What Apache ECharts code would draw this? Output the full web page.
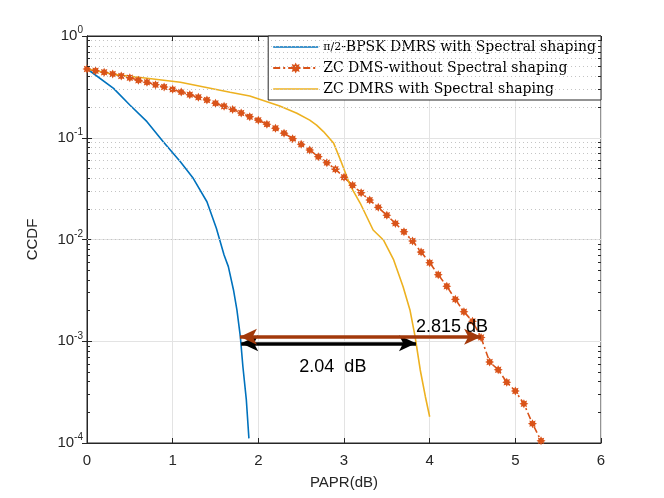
<!DOCTYPE html>
<html>
<head>
<meta charset="utf-8">
<script src="https://cdn.jsdelivr.net/npm/echarts@6/dist/echarts.min.js"></script>
<style>
  html, body { margin: 0; padding: 0; background: #fff; }
  #main { width: 664px; height: 498px; }
</style>
</head>
<body>
<div id="main"></div>
<script>
// pi/2-BPSK DMRS with spectral shaping
var paprBpsk = [0, 0.035, 0.31, 0.50, 0.70, 0.89, 1.09, 1.24, 1.40, 1.51, 1.60, 1.65, 1.71, 1.75, 1.79, 1.82, 1.86, 1.89];
var ccdfBpsk = [0.474, 0.453, 0.306, 0.210, 0.144, 0.0915, 0.0582, 0.0399, 0.0235, 0.0129, 0.00704, 0.00541, 0.00319, 0.00203, 0.00111, 0.000562, 0.000265, 0.000111];

// ZC without spectral shaping (marker every 0.1 dB)
var paprZc = [0, 0.1, 0.2, 0.3, 0.4, 0.5, 0.6, 0.7, 0.8, 0.9, 1.0, 1.1, 1.2, 1.3, 1.4, 1.5, 1.6, 1.7, 1.8, 1.9,
              2.0, 2.1, 2.2, 2.3, 2.4, 2.5, 2.6, 2.7, 2.8, 2.9, 3.0, 3.1, 3.2, 3.3, 3.4, 3.5, 3.6, 3.7, 3.8, 3.9,
              4.0, 4.1, 4.2, 4.3, 4.4, 4.5, 4.6, 4.7, 4.8, 4.9, 5.0, 5.1, 5.2, 5.3];
var ccdfZc = [0.474, 0.456, 0.440, 0.423, 0.404, 0.389, 0.367, 0.351, 0.332, 0.315, 0.299, 0.282, 0.265, 0.250, 0.235, 0.218, 0.204, 0.190, 0.175, 0.161,
              0.149, 0.136, 0.124, 0.111, 0.098, 0.0862, 0.0758, 0.0652, 0.0569, 0.0490, 0.0409, 0.0341, 0.0288, 0.0244, 0.0207, 0.0173, 0.0144, 0.0119, 0.00967, 0.00752,
              0.00591, 0.00451, 0.00347, 0.00258, 0.00195, 0.00157, 0.00109, 0.000625, 0.000525, 0.000395, 0.000324, 0.000243, 0.000155, 0.000105];

// ZC DMRS with spectral shaping
var paprZcSs = [0, 0.31, 0.70, 1.09, 1.67, 1.90, 2.25, 2.45, 2.60, 2.68, 2.76, 2.88, 2.96, 3.07, 3.19, 3.34, 3.46, 3.58, 3.69, 3.77, 3.83, 3.89, 3.95, 4.0];
var ccdfZcSs = [0.474, 0.420, 0.384, 0.351, 0.280, 0.257, 0.205, 0.174, 0.149, 0.133, 0.115, 0.0881, 0.060, 0.0343, 0.0227, 0.0124, 0.00989, 0.00629, 0.00344, 0.00203, 0.00111, 0.000522, 0.000285, 0.000181];

var seriesNames = ['\u03c0/2-BPSK DMRS with Spectral shaping', 'ZC DMS-without Spectral shaping', 'ZC DMRS with Spectral shaping'];

// annotation arrows: [x from, x to, ccdf level]
var arrowBlack = [1.80, 3.84, 0.000955];
var arrowBrown = [1.785, 4.60, 0.00111];

var minorMult = [2, 3, 4, 5, 6, 7, 8, 9];
var decades = [0.0001, 0.001, 0.01, 0.1];

function zip(xs, ys) {
    var out = [];
    for (var i = 0; i < xs.length; i++) out.push([xs[i], ys[i]]);
    return out;
}

var sansFont = '"Liberation Sans", Arial, Helvetica, sans-serif';
var serifFont = '"DejaVu Serif", serif';
var axisCol = '#262626';

// minor grid (dotted) and minor ticks on left/right of the log axis
var minorLines = [];
decades.forEach(function (d) {
    minorMult.forEach(function (k) {
        var v = k * d;
        minorLines.push({yAxis: v, lineStyle: {type: [1, 3], color: '#c4c4c4', width: 1}});
        minorLines.push([{coord: [0, v], lineStyle: {type: 'solid', color: axisCol, width: 1}}, {coord: [0.035, v]}]);
        minorLines.push([{coord: [5.965, v], lineStyle: {type: 'solid', color: axisCol, width: 1}}, {coord: [6, v]}]);
    });
});

var starPath = 'path://M20,10L15.5,12.3L17.07,17.07L12.3,15.5L10,20L7.7,15.5L2.93,17.07L4.5,12.3L0,10L4.5,7.7L2.93,2.93L7.7,4.5L10,0L12.3,4.5L17.07,2.93L15.5,7.7Z';

var chart = echarts.init(document.getElementById('main'));

var option = {
    animation: false,
    backgroundColor: '#fff',
    grid: {left: 87, top: 36, right: 63, bottom: 55, show: true, borderColor: axisCol, borderWidth: 1, backgroundColor: 'transparent'},
    legend: {
        data: [
            {name: seriesNames[0], itemStyle: {opacity: 0}, lineStyle: {type: 'solid', width: 1.6}},
            {name: seriesNames[1]},
            {name: seriesNames[2], itemStyle: {opacity: 0}, lineStyle: {type: 'solid', width: 1.6}}
        ],
        orient: 'vertical',
        right: 63,
        top: 36,
        itemWidth: 45,
        itemHeight: 14,
        itemGap: 7,
        padding: [4, 5, 4, 4],
        backgroundColor: '#fff',
        borderColor: axisCol,
        borderWidth: 1,
        borderRadius: 0,
        textStyle: {
            fontFamily: serifFont,
            fontSize: 14,
            color: '#000',
            rich: {
                f: {fontFamily: serifFont, fontSize: 11, color: '#000'}
            }
        },
        formatter: function (name) {
            if (name.indexOf('\u03c0/2') === 0) {
                return '{f|\u03c0/2}' + name.substring(3);
            }
            return name;
        }
    },
    xAxis: [{
        type: 'value',
        min: 0,
        max: 6,
        interval: 1,
        name: 'PAPR(dB)',
        nameLocation: 'middle',
        nameGap: 32,
        nameTextStyle: {fontFamily: sansFont, fontSize: 15, color: axisCol},
        axisLine: {show: true, onZero: false, lineStyle: {color: axisCol}},
        axisTick: {inside: true, length: 5, lineStyle: {color: axisCol}},
        axisLabel: {fontFamily: sansFont, fontSize: 15, color: axisCol, margin: 10},
        splitLine: {show: true, lineStyle: {color: '#e3e3e3', width: 1}}
    }, {
        type: 'value',
        position: 'top',
        min: 0,
        max: 6,
        interval: 1,
        axisLine: {show: true, lineStyle: {color: axisCol}},
        axisTick: {inside: true, length: 5, lineStyle: {color: axisCol}},
        axisLabel: {show: false},
        splitLine: {show: false}
    }],
    yAxis: [{
        type: 'log',
        logBase: 10,
        min: 0.0001,
        max: 1,
        splitNumber: 4,
        name: 'CCDF',
        nameLocation: 'middle',
        nameGap: 47,
        nameTextStyle: {fontFamily: sansFont, fontSize: 15, color: axisCol},
        axisLine: {show: true, onZero: false, lineStyle: {color: axisCol}},
        axisTick: {inside: true, length: 5, lineStyle: {color: axisCol}},
        axisLabel: {
            margin: 4,
            formatter: function (v) {
                var e = Math.round(Math.log(v) / Math.LN10);
                return '{b|10}{s|' + e + '}';
            },
            rich: {
                b: {fontFamily: sansFont, fontSize: 15, color: axisCol},
                s: {fontFamily: sansFont, fontSize: 10, color: axisCol, padding: [0, 0, 11, 0]}
            }
        },
        splitLine: {show: true, lineStyle: {color: '#e3e3e3', width: 1}}
    }, {
        type: 'log',
        logBase: 10,
        position: 'right',
        min: 0.0001,
        max: 1,
        splitNumber: 4,
        axisLine: {show: true, lineStyle: {color: axisCol}},
        axisTick: {inside: true, length: 5, lineStyle: {color: axisCol}},
        axisLabel: {show: false},
        splitLine: {show: false}
    }],
    series: [{
        name: 'minor',
        type: 'line',
        data: [],
        silent: true,
        z: 1,
        markLine: {
            silent: true,
            symbol: 'none',
            label: {show: false},
            animation: false,
            data: minorLines
        }
    }, {
        name: seriesNames[0],
        type: 'line',
        data: zip(paprBpsk, ccdfBpsk),
        showSymbol: false,
        symbol: 'none',
        color: '#0072BD',
        lineStyle: {color: '#0072BD', width: 1.6},
        z: 3
    }, {
        name: seriesNames[1],
        type: 'line',
        data: zip(paprZc, ccdfZc),
        symbol: starPath,
        symbolSize: 9,
        showAllSymbol: true,
        color: '#D95319',
        itemStyle: {color: '#D95319'},
        lineStyle: {color: '#D95319', width: 1.6, type: [7, 3, 2, 3]},
        z: 3
    }, {
        name: seriesNames[2],
        type: 'line',
        data: zip(paprZcSs, ccdfZcSs),
        symbol: 'none',
        color: '#EDB120',
        lineStyle: {color: '#EDB120', width: 1.6},
        z: 3,
        markLine: {
            silent: true,
            symbol: ['arrow', 'arrow'],
            symbolSize: [12, 17],
            label: {show: false},
            animation: false,
            data: [
                [{coord: [arrowBlack[0], arrowBlack[2]], lineStyle: {color: '#000', width: 3.5, type: 'solid'}, itemStyle: {color: '#000'}},
                 {coord: [arrowBlack[1], arrowBlack[2]]}],
                [{coord: [arrowBrown[0], arrowBrown[2]], lineStyle: {color: '#a2390b', width: 3.5, type: 'solid'}, itemStyle: {color: '#a2390b'}},
                 {coord: [arrowBrown[1], arrowBrown[2]]}]
            ]
        },
        markPoint: {
            silent: true,
            symbol: 'circle',
            symbolSize: 0,
            animation: false,
            label: {show: true, position: 'inside', fontFamily: sansFont, fontSize: 18, color: '#000'},
            data: [
                {coord: [4.26, 0.00138], label: {formatter: '2.815 dB'}},
                {coord: [2.87, 0.000558], label: {formatter: '2.04  dB'}}
            ]
        }
    }]
};

chart.setOption(option);
</script>
</body>
</html>
